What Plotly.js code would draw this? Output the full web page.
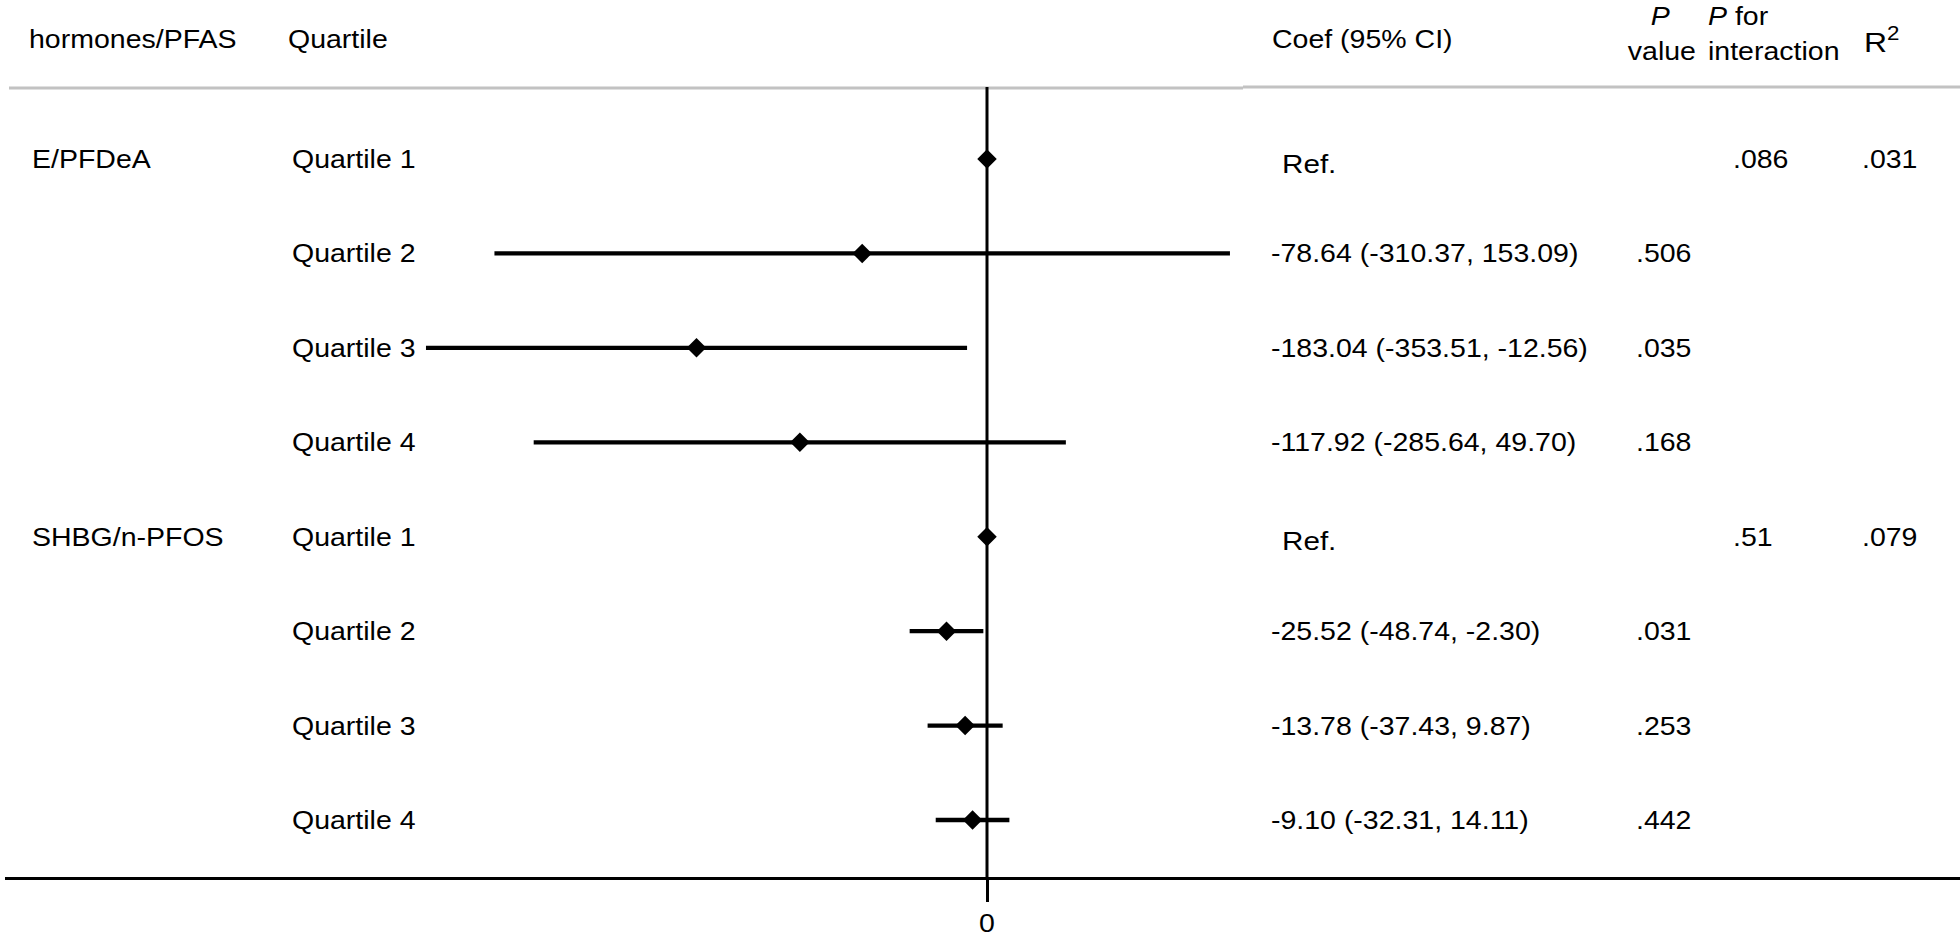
<!DOCTYPE html>
<html>
<head>
<meta charset="utf-8">
<script src="https://cdn.plot.ly/plotly-3.0.1.min.js"></script>
<style>
  html, body { margin: 0; padding: 0; background: #fff; }
  #chart { width: 1960px; height: 939px; }
</style>
</head>
<body>
<div id="chart"></div>
<script>
// ---- data ----
const groups = ['E/PFDeA', 'SHBG/n-PFOS'];
const quartiles = ['Quartile 1', 'Quartile 2', 'Quartile 3', 'Quartile 4',
                   'Quartile 1', 'Quartile 2', 'Quartile 3', 'Quartile 4'];
const coef  = [0, -78.64, -183.04, -117.92, 0, -25.52, -13.78, -9.10];
const lower = [null, -310.37, -353.51, -285.64, null, -48.74, -37.43, -32.31];
const upper = [null, 153.09, -12.56, 49.70, null, -2.30, 9.87, 14.11];
const coefText = ['Ref.', '-78.64 (-310.37, 153.09)', '-183.04 (-353.51, -12.56)',
                  '-117.92 (-285.64, 49.70)', 'Ref.', '-25.52 (-48.74, -2.30)',
                  '-13.78 (-37.43, 9.87)', '-9.10 (-32.31, 14.11)'];
const pValues = ['', '.506', '.035', '.168', '', '.031', '.253', '.442'];
const pInteraction = ['.086', '.51'];
const r2 = ['.031', '.079'];
const headers = {
  group: 'hormones/PFAS', quartile: 'Quartile', coef: 'Coef (95% CI)',
  pTop: '<i>P</i>', pBottom: 'value', piTop: '<i>P</i> for', piBottom: 'interaction',
  r2: 'R<sup>2</sup>'
};

// ---- layout helpers ----
const W = 1960, H = 939;
const FONT = 'Liberation Sans, Arial, Helvetica, sans-serif';
const FS = 25;          // base font size
const STRETCH = 1.14;   // horizontal stretch of the reference lettering
const px = x => x / W;            // pixel x -> paper
const py = y => 1 - y / H;        // pixel y -> paper
const rows = coef.map((_, i) => i);

const errPlus  = coef.map((c, i) => upper[i] == null ? 0 : upper[i] - c);
const errMinus = coef.map((c, i) => lower[i] == null ? 0 : c - lower[i]);

const trace = {
  type: 'scatter', mode: 'markers',
  x: coef, y: rows,
  marker: { symbol: 'diamond', size: 15, color: '#000' },
  error_x: { type: 'data', symmetric: false, array: errPlus, arrayminus: errMinus,
             thickness: 4.3, width: 0, color: '#000' },
  hoverinfo: 'x+y', showlegend: false
};

const ann = [];
function add(text, x, y, opts) {
  ann.push(Object.assign({ text, x: px(x), xref: 'paper', y, yref: 'y',
    showarrow: false, xanchor: 'left', align: 'left', yanchor: 'middle',
    font: { family: FONT, size: FS, color: '#000' } }, opts || {}));
}
function addH(text, x, y, opts) {
  add(text, x, py(y), Object.assign({ yref: 'paper' }, opts || {}));
}
addH(headers.group, 27, 39);
addH(headers.quartile, 286, 39);
addH(headers.coef, 1270, 39);
addH(headers.pTop, 1660, 16, { xanchor: 'center', align: 'center' });
addH(headers.pBottom, 1662, 51, { xanchor: 'center', align: 'center' });
addH(headers.piTop, 1706, 16);
addH(headers.piBottom, 1706, 51);
addH(headers.r2, 1862, 40, { font: { family: FONT, size: 28, color: '#000' } });

add(groups[0], 30, 0);
add(groups[1], 30, 4);
rows.forEach(i => {
  add(quartiles[i], 290, i);
  if (coefText[i] === 'Ref.') {
    add(coefText[i], 1280, i + 0.05, { font: { family: FONT, size: 26, color: '#000' } });
  } else {
    add(coefText[i], 1269, i);
  }
  if (pValues[i]) add(pValues[i], 1634, i);
});
add(pInteraction[0], 1731, 0);
add(pInteraction[1], 1731, 4);
add(r2[0], 1860, 0);
add(r2[1], 1860, 4);

const pitch = (820 - 159) / 7;
const rowOf = y => (y - 159) / pitch;   // pixel y -> row coordinate

const layout = {
  width: W, height: H,
  margin: { l: 0, r: 0, t: 0, b: 0, pad: 0 },
  paper_bgcolor: '#fff', plot_bgcolor: '#fff',
  xaxis: {
    domain: [px(5), 1],
    range: [-(987 - 5) / 1.587, (W - 987) / 1.587],
    anchor: 'free', position: py(878),
    showgrid: false, zeroline: false,
    showline: true, linecolor: '#000', linewidth: 3,
    tickmode: 'array', tickvals: [0], ticktext: ['0'],
    ticks: 'outside', ticklen: 22, tickwidth: 3, tickcolor: '#000',
    tickfont: { family: FONT, size: FS, color: '#000' },
    fixedrange: true
  },
  yaxis: {
    range: [rowOf(H), rowOf(0)],
    visible: false, showgrid: false, zeroline: false, fixedrange: true
  },
  shapes: [
    { type: 'line', xref: 'paper', yref: 'paper', x0: px(9), x1: px(1243), y0: py(88), y1: py(88),
      line: { color: '#c2c2c2', width: 3 } },
    { type: 'line', xref: 'paper', yref: 'paper', x0: px(1243), x1: 1, y0: py(87), y1: py(87),
      line: { color: '#c2c2c2', width: 3 } },
    { type: 'line', xref: 'x', yref: 'paper', x0: 0, x1: 0, y0: py(87), y1: py(878),
      line: { color: '#000', width: 3 } }
  ],
  annotations: ann,
  showlegend: false
};

Plotly.newPlot('chart', [trace], layout, { staticPlot: true, displayModeBar: false })
  .then(gd => {
    // widen the lettering horizontally, as in the reference
    gd.querySelectorAll('text.annotation-text, .xtick text').forEach(el => {
      const L = el.getComputedTextLength();
      if (L > 0) {
        el.setAttribute('textLength', (L * STRETCH).toFixed(2));
        el.setAttribute('lengthAdjust', 'spacingAndGlyphs');
      }
    });
  });
</script>
</body>
</html>
